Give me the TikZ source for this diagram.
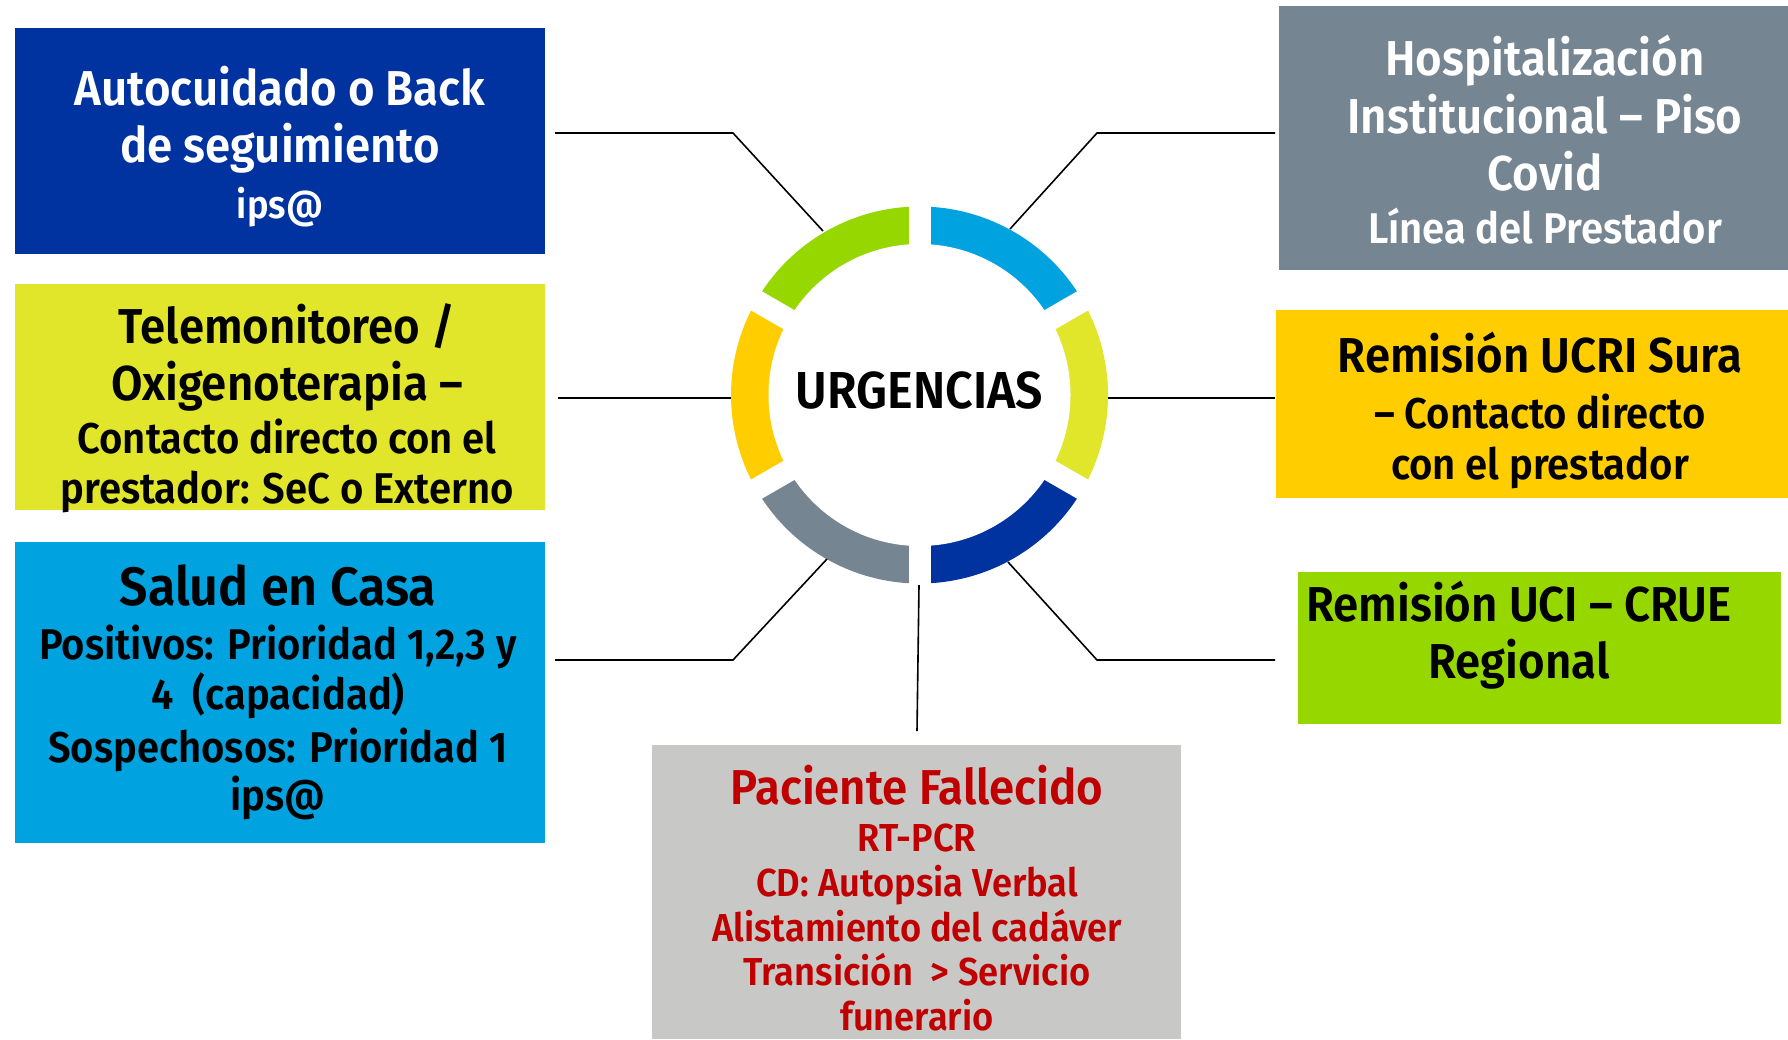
\documentclass[tikz,border=0pt]{standalone}
\usepackage{fontspec}
\IfFontExistsTF{Fira Sans SemiBold}
 {\newfontfamily\bfont[FakeStretch=0.93]{Fira Sans SemiBold}}
 {\newfontfamily\bfont[FakeStretch=0.93,UprightFont=* Bold]{Fira Sans}}
\newcommand\fsz[1]{\fontsize{#1}{#1}\selectfont}
\definecolor{cgreen}{HTML}{97D700}
\definecolor{clblue}{HTML}{00A3E0}
\definecolor{cyell}{HTML}{E1E62B}
\definecolor{cdblue}{HTML}{0033A0}
\definecolor{cgray}{HTML}{758592}
\definecolor{corange}{HTML}{FFCD00}
\definecolor{clgray}{HTML}{C8C9C7}
\definecolor{cred}{HTML}{C00000}
\tikzset{
  box/.style={rectangle, draw=none, inner sep=0pt, outer sep=0pt, anchor=north west},
  lbl/.style={anchor=base, inner sep=0pt, outer sep=0pt},
  big/.style={lbl, font={\bfont\fsz{49}}},
  mid/.style={lbl, font={\bfont\fsz{43}}},
  sml/.style={lbl, font={\bfont\fsz{39}}},
  conn/.style={draw=black, line width=1.6pt},
  gap/.style={draw=white, line width=22pt},
}
\begin{document}
\begin{tikzpicture}[x=1pt,y=-1pt]
\useasboundingbox (0,0) rectangle (1788,1039);
\fill[white] (0,0) rectangle (1788,1039);

% boxes
\node[box, fill=cdblue, minimum width=530pt, minimum height=226pt] (b1) at (15,28) {};
\node[box, fill=cyell, minimum width=530pt, minimum height=226pt] (b2) at (15,284) {};
\node[box, fill=clblue, minimum width=530pt, minimum height=301pt] (b3) at (15,542) {};
\node[box, fill=cgray, minimum width=509pt, minimum height=264pt] (b4) at (1279,6) {};
\node[box, fill=corange, minimum width=512pt, minimum height=188pt] (b5) at (1276,310) {};
\node[box, fill=cgreen, minimum width=483pt, minimum height=152pt] (b6) at (1298,572) {};
\node[box, fill=clgray, minimum width=529pt, minimum height=294pt] (b7) at (652,745) {};

% ring
\begin{scope}[shift={(919.5,395)}, yscale=-1]
  \foreach \a/\c in {90/cgreen, 30/clblue, -30/cyell, -90/cdblue, -150/cgray, 150/corange}{
    \fill[\c] (\a:188.5) arc[start angle=\a, end angle=\a+60, radius=188.5]
      -- (\a+60:150.5) arc[start angle=\a+60, end angle=\a, radius=150.5] -- cycle;
  }
  \foreach \a in {90,30,-30,-90,-150,150}{
    \draw[gap] (0,0) -- (\a:196);
  }
  \fill[white] (0,0) circle[radius=151];
\end{scope}
\node[lbl, font={\bfont\fsz{52}}] (urg) at (919.5,408) {URGENCIAS};

% texts box 1
\node[big, text=white] (t11) at (280,105) {Autocuidado o Back};
\node[big, text=white] (t12) at (280,162) {de seguimiento};
\node[sml, text=white] (t13) at (280,218) {ips@};
% box 2
\node[big] (t21) at (287,343) {Telemonitoreo /};
\node[big] (t22) at (287,400) {Oxigenoterapia –};
\node[mid] (t23) at (287,453) {Contacto directo con el};
\node[mid] (t24) at (287,503) {prestador: SeC o Externo};
% box 3
\node[lbl, font={\bfont\fsz{54}}] (t31) at (278,605) {Salud en Casa};
\node[mid] (t32) at (278,659) {Positivos: Prioridad 1,2,3 y};
\node[mid] (t33) at (278,709) {4~ (capacidad)};
\node[mid] (t34) at (278,762) {Sospechosos: Prioridad 1};
\node[mid] (t35) at (278,810) {ips@};
% box 4
\node[big, text=white] (t41) at (1545,75) {Hospitalización};
\node[big, text=white] (t42) at (1545,133) {Institucional – Piso};
\node[big, text=white] (t43) at (1545,190) {Covid};
\node[mid, text=white] (t44) at (1545,243) {Línea del Prestador};
% box 5
\node[big] (t51) at (1540,372) {Remisión UCRI Sura};
\node[mid] (t52) at (1540,428) {– Contacto directo};
\node[mid] (t53) at (1540,479) {con el prestador};
% box 6
\node[big] (t61) at (1519,621) {Remisión UCI – CRUE};
\node[big] (t62) at (1519,678) {Regional};
% box 7
\node[big, text=cred] (t71) at (917,804) {Paciente Fallecido};
\node[sml, text=cred] (t72) at (917,851) {RT-PCR};
\node[sml, text=cred] (t73) at (917,896) {CD: Autopsia Verbal};
\node[sml, text=cred] (t74) at (917,941) {Alistamiento del cadáver};
\node[sml, text=cred] (t75) at (917,985) {Transición~ > Servicio};
\node[sml, text=cred] (t76) at (917,1030) {funerario};

% connector coordinates
\coordinate (c1a) at (555,133); \coordinate (c1b) at (733,133); \coordinate (c1c) at (823,231);
\coordinate (c2a) at (558,398); \coordinate (c2b) at (731,398);
\coordinate (c3a) at (555,660); \coordinate (c3b) at (733,660); \coordinate (c3c) at (827,559);
\coordinate (c4a) at (1275,133); \coordinate (c4b) at (1097,133); \coordinate (c4c) at (1010,229);
\coordinate (c5a) at (1275,398); \coordinate (c5b) at (1108,398);
\coordinate (c6a) at (1275,660); \coordinate (c6b) at (1097,660); \coordinate (c6c) at (1008,562);
\coordinate (c7a) at (919,585); \coordinate (c7b) at (917,731);

\draw[conn] (c1a) -- (c1b) -- (c1c);
\draw[conn] (c2a) -- (c2b);
\draw[conn] (c3a) -- (c3b) -- (c3c);
\draw[conn] (c4a) -- (c4b) -- (c4c);
\draw[conn] (c5a) -- (c5b);
\draw[conn] (c6a) -- (c6b) -- (c6c);
\draw[conn] (c7a) -- (c7b);
\end{tikzpicture}
\end{document}
